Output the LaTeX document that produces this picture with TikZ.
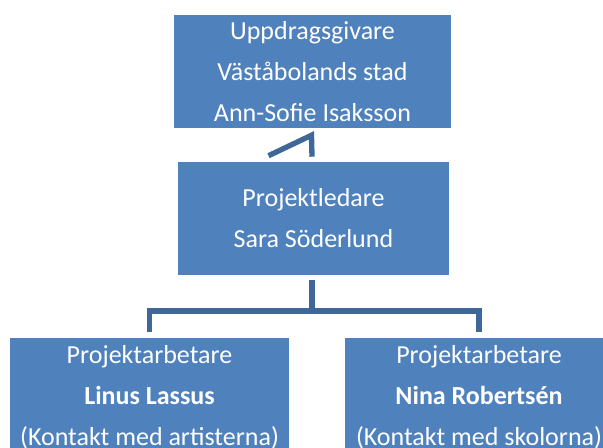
\documentclass[tikz,border=0pt]{standalone}
\usepackage{fontspec}
\setmainfont{Carlito}
\usetikzlibrary{calc}
\definecolor{boxblue}{HTML}{4F81BD}
\definecolor{linkblue}{HTML}{3F6797}
\tikzset{
  orgbox/.style={fill=boxblue, text=white, align=center, inner sep=0pt,
    font=\fontsize{19.5}{30.75}\selectfont},
  orglink/.style={draw=linkblue, line width=4pt}
}

\begin{document}
\begin{tikzpicture}[x=0.75pt,y=-0.75pt]
\clip (0,0) rectangle (603,448);
\node[orgbox, minimum width=207.75pt, minimum height=84.75pt] (giver) at (312.5,71.5)
  {Uppdragsgivare\\Väståbolands stad\\Ann-Sofie Isaksson};
\node[orgbox, minimum width=203.25pt, minimum height=84.75pt] (leader) at (313.5,218.5)
  {Projektledare\\Sara Söderlund};
\node[orgbox, minimum width=209.25pt, minimum height=88.5pt] (worker1) at (149.5,397.5)
  {Projektarbetare\\\textbf{Linus Lassus}\\(Kontakt med artisterna)};
\node[orgbox, minimum width=201pt, minimum height=88.5pt] (worker2) at (479,397.5)
  {Projektarbetare\\\textbf{Nina Robertsén}\\(Kontakt med skolorna)};
% connectors
\coordinate (bend) at (312,311);
\draw[orglink, line join=miter] ($(leader.north)+(-45,-6)$) -- ($(giver.south)+(-1,7)$) -- ($(leader.north)+(-1.5,-5)$);
\draw[orglink] ($(leader.south)+(-1.5,5)$) -- (bend);
\draw[orglink, shorten >=5pt] (bend) -| (worker1.north);
\draw[orglink, shorten >=5pt] (bend) -| (worker2.north);
\end{tikzpicture}
\end{document}
